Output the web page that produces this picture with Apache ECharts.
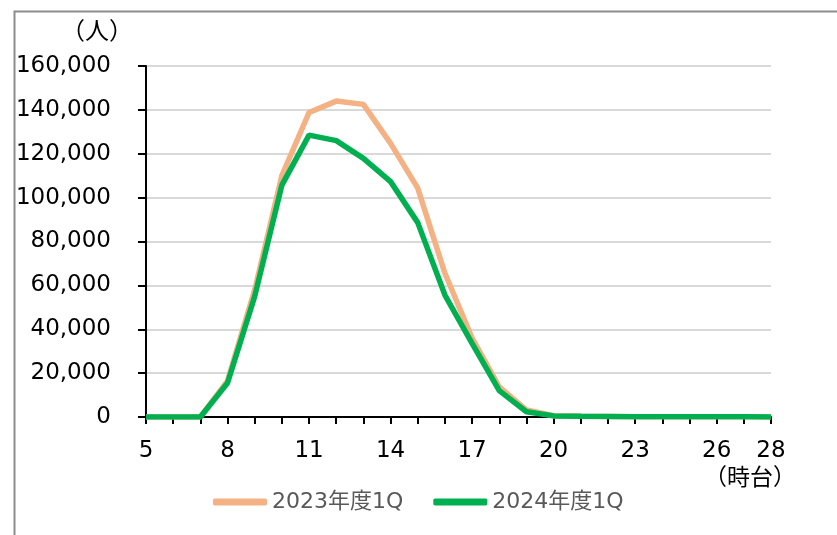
<!DOCTYPE html>
<html>
<head>
<meta charset="utf-8">
<script src="https://cdn.jsdelivr.net/npm/echarts@6/dist/echarts.min.js"></script>
<style>
html,body{margin:0;padding:0;background:#fff;}
#c{width:837px;height:535px;}
</style>
</head>
<body>
<div id="c"></div>
<script>
const hours = [5,6,7,8,9,10,11,12,13,14,15,16,17,18,19,20,21,22,23,24,25,26,27,28];
const series2023 = [0,0,0,16500,58000,110000,138800,144000,142500,124700,104300,65500,36000,13800,3200,600,300,200,100,100,100,100,100,0];
const series2024 = [0,0,0,15500,55000,105700,128500,126000,117900,107300,88600,55600,33600,12000,2400,500,300,200,100,100,100,100,100,0];
const seriesNames = ['2023年度1Q','2024年度1Q'];
const yUnit = '（人）';
const xUnit = '（時台）';

const FONT = "'DejaVu Sans', 'Noto Sans CJK JP', sans-serif";
const chart = echarts.init(document.getElementById('c'), null, {renderer:'canvas'});
chart.setOption({
  backgroundColor:'#fff',
  animation:false,
  textStyle:{fontFamily:FONT},
  grid:{left:146, right:66, top:66, bottom:118, containLabel:false},
  legend:{
    data:seriesNames,
    left:208, top:486,
    icon:'roundRect',
    itemWidth:54, itemHeight:7,
    itemGap:30,
    textStyle:{fontFamily:FONT, fontSize:22, color:'#595959'}
  },
  xAxis:{
    type:'category',
    data:hours,
    boundaryGap:false,
    axisLine:{lineStyle:{color:'#000', width:2}},
    axisTick:{show:true, length:7, interval:0, lineStyle:{color:'#000', width:2}},
    axisLabel:{
      interval:function(i){return i%3===0 || i===hours.length-1;},
      margin:23, fontSize:23, color:'#000', fontFamily:FONT
    },
    splitLine:{show:false}
  },
  yAxis:{
    type:'value',
    min:0, max:160000, interval:20000,
    axisLine:{show:true, lineStyle:{color:'#000', width:2}},
    axisTick:{show:true, length:8, lineStyle:{color:'#000', width:2}},
    axisLabel:{
      margin:35, fontSize:23, color:'#000', fontFamily:FONT,
      formatter:function(v){return v.toLocaleString('en-US');}
    },
    splitLine:{lineStyle:{color:'#d9d9d9', width:2}}
  },
  series:[
    {name:seriesNames[0], type:'line', data:series2023, symbol:'none',
     lineStyle:{color:'#F4B183', width:5.5}, itemStyle:{color:'#F4B183'}, z:2},
    {name:seriesNames[1], type:'line', data:series2024, symbol:'none',
     lineStyle:{color:'#00B050', width:5.5}, itemStyle:{color:'#00B050'}, z:3}
  ],
  graphic:[
    {type:'rect', left:12, top:9, shape:{x:0,y:0,width:900,height:600},
     style:{fill:null, stroke:'#8c8c8c', lineWidth:2}, silent:true, z:-1},
    {type:'text', x:97, y:33, style:{text:yUnit, font:"24px "+FONT, fill:'#000', textAlign:'center', textVerticalAlign:'middle'}},
    {type:'text', x:750, y:479, style:{text:xUnit, font:"23px "+FONT, fill:'#000', textAlign:'center', textVerticalAlign:'middle'}}
  ]
});
</script>
</body>
</html>
